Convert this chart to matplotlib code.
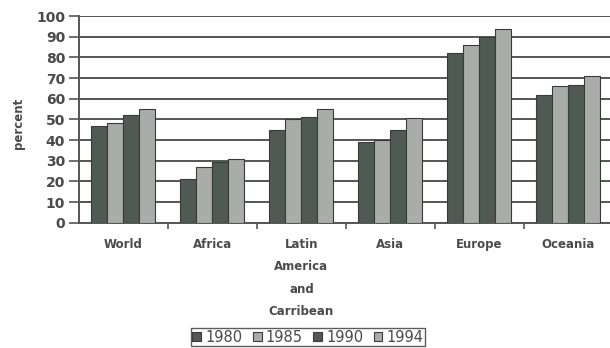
import numpy as np
import matplotlib
matplotlib.use("Agg")
import matplotlib.pyplot as plt

# urban share of population by region
regions = ["World", "Africa", "Latin\nAmerica\nand\nCarribean", "Asia", "Europe", "Oceania"]
years = ["1980", "1985", "1990", "1994"]
v1980 = [47, 21, 45, 39, 82, 62]
v1985 = [48, 27, 50, 40, 86, 66]
v1990 = [52, 29.5, 51, 45, 90, 66.5]
v1994 = [55, 31, 55, 50.5, 93.5, 71]

series = [v1980, v1985, v1990, v1994]
colors = ["#4f5a52", "#a9ada9", "#4f5a52", "#a9ada9"]
text_col = "#4a4a4a"

fig = plt.figure(figsize=(6.1, 3.48), dpi=100)
ax = fig.add_axes([0.1295, 0.36, 0.875, 0.594])

x = np.arange(len(regions))
w = 0.18
for i, (vals, c) in enumerate(zip(series, colors)):
    ax.bar(x + (i - 1.5) * w, vals, w, color=c, edgecolor="#3a3a3a",
           linewidth=0.8, label=years[i], zorder=3)

ax.set_xlim(-0.5, len(regions) - 0.5)
ax.set_ylim(0, 100)
ax.set_yticks(range(0, 101, 10))
ax.yaxis.grid(True, color="#555555", linewidth=1.4, zorder=0)
ax.set_axisbelow(True)

ax.set_xticks(x)
ax.set_xticklabels(regions, fontsize=8.5, fontweight="bold", color=text_col,
                   linespacing=1.95, va="top")
ax.tick_params(axis="x", length=0, pad=11)
ax.set_xticks(np.arange(0.5, len(regions) - 0.5), minor=True)
ax.tick_params(axis="x", which="minor", length=4, color="#555555", width=1.2)
ax.tick_params(axis="y", labelsize=10, colors=text_col, length=7,
               width=1.2, pad=3)
for lab in ax.get_yticklabels():
    lab.set_fontweight("bold")
ax.tick_params(axis="y", color="#555555")

for s in ["top", "right"]:
    ax.spines[s].set_visible(False)
for s in ["left", "bottom"]:
    ax.spines[s].set_color("#555555")
    ax.spines[s].set_linewidth(1.4)

fig.text(0.03, 0.646, "percent", rotation=90, ha="center", va="center",
         fontsize=8.5, fontweight="bold", color=text_col)

leg = fig.legend(loc="center", bbox_to_anchor=(308 / 610, 1 - 337 / 348), ncol=4,
                 frameon=True, fancybox=False, fontsize=10.5,
                 handlelength=0.6, handleheight=0.6, handletextpad=0.3,
                 columnspacing=0.7, borderpad=0.1, borderaxespad=0)
leg.get_frame().set_edgecolor("#333333")
leg.get_frame().set_linewidth(1.0)
for t in leg.get_texts():
    t.set_color(text_col)

fig.savefig("out.png", dpi=100)
